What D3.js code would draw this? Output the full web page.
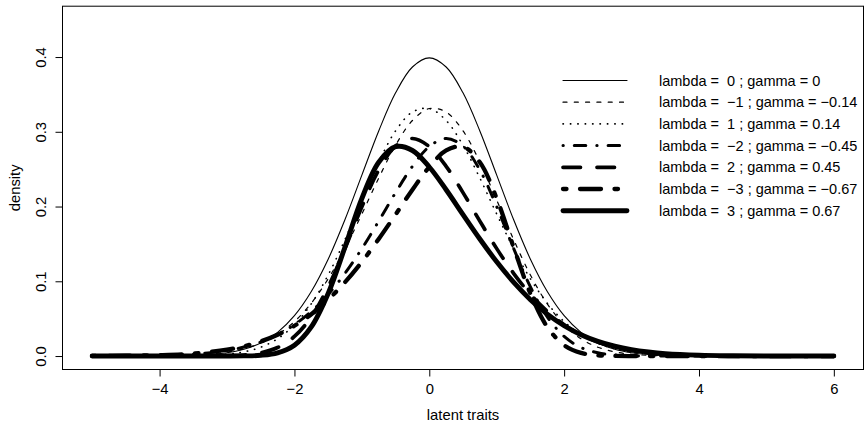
<!DOCTYPE html>
<html>
<head>
<meta charset="utf-8">
<script src="https://cdn.jsdelivr.net/npm/d3@7"></script>
<style>
  body { margin: 0; background: #fff; }
  svg text { font-family: "Liberation Sans", Arial, Helvetica, sans-serif; font-size: 14.8px; fill: #000; white-space: pre; }
  svg text.legendLabel { font-size: 14.5px; }
</style>
</head>
<body>
<svg class="density" width="865" height="423"></svg>
<script>
const traits = [-5, -4.5, -4, -3.5, -3, -2.75, -2.5, -2.25, -2, -1.75, -1.5, -1.25, -1, -0.75, -0.5, -0.25,
                0, 0.25, 0.5, 0.75, 1, 1.25, 1.5, 1.75, 2, 2.25, 2.5, 2.75, 3, 3.25, 3.5, 4, 4.5, 5, 5.5, 6];

// density for each lambda
const densL0 = [0.0000, 0.0000, 0.0001, 0.0009, 0.0044, 0.0091, 0.0175, 0.0317, 0.0540, 0.0863, 0.1295, 0.1826, 0.2420, 0.3011, 0.3521, 0.3867,
                0.3989, 0.3867, 0.3521, 0.3011, 0.2420, 0.1826, 0.1295, 0.0863, 0.0540, 0.0317, 0.0175, 0.0091, 0.0044, 0.0020, 0.0009, 0.0001, 0.0000, 0.0000, 0.0000, 0.0000];
const densLm1 = [0.0000, 0.0001, 0.0003, 0.0014, 0.0053, 0.0098, 0.0171, 0.0287, 0.0461, 0.0707, 0.1033, 0.1437, 0.1900, 0.2381, 0.2820, 0.3151,
                 0.3311, 0.3264, 0.3012, 0.2596, 0.2086, 0.1560, 0.1084, 0.0699, 0.0417, 0.0231, 0.0118, 0.0056, 0.0024, 0.0010, 0.0004, 0.0000, 0.0000, 0.0000, 0.0000, 0.0000];
const densL1 = [0.0000, 0.0000, 0.0000, 0.0004, 0.0024, 0.0056, 0.0118, 0.0231, 0.0417, 0.0699, 0.1084, 0.1560, 0.2086, 0.2596, 0.3012, 0.3264,
                0.3311, 0.3151, 0.2820, 0.2381, 0.1900, 0.1437, 0.1033, 0.0707, 0.0461, 0.0287, 0.0171, 0.0098, 0.0053, 0.0028, 0.0014, 0.0003, 0.0001, 0.0000, 0.0000, 0.0000];
const densLm2 = [0.0001, 0.0002, 0.0008, 0.0026, 0.0075, 0.0120, 0.0188, 0.0285, 0.0419, 0.0597, 0.0825, 0.1107, 0.1437, 0.1805, 0.2186, 0.2538,
                 0.2802, 0.2910, 0.2809, 0.2488, 0.1998, 0.1441, 0.0925, 0.0525, 0.0262, 0.0114, 0.0043, 0.0014, 0.0004, 0.0001, 0.0000, 0.0000, 0.0000, 0.0000, 0.0000, 0.0000];
const densL2 = [0.0000, 0.0000, 0.0000, 0.0000, 0.0004, 0.0014, 0.0043, 0.0114, 0.0262, 0.0525, 0.0925, 0.1441, 0.1998, 0.2488, 0.2809, 0.2910,
                0.2802, 0.2538, 0.2186, 0.1805, 0.1437, 0.1107, 0.0825, 0.0597, 0.0419, 0.0285, 0.0188, 0.0120, 0.0075, 0.0045, 0.0026, 0.0008, 0.0002, 0.0001, 0.0000, 0.0000];
const densLm3 = [0.0001, 0.0004, 0.0012, 0.0033, 0.0085, 0.0131, 0.0196, 0.0285, 0.0405, 0.0560, 0.0754, 0.0988, 0.1260, 0.1566, 0.1893, 0.2225,
                 0.2529, 0.2750, 0.2800, 0.2592, 0.2108, 0.1458, 0.0836, 0.0389, 0.0145, 0.0043, 0.0010, 0.0002, 0.0000, 0.0000, 0.0000, 0.0000, 0.0000, 0.0000, 0.0000, 0.0000];
const densL3 = [0.0000, 0.0000, 0.0000, 0.0000, 0.0000, 0.0002, 0.0010, 0.0043, 0.0145, 0.0389, 0.0836, 0.1458, 0.2108, 0.2592, 0.2800, 0.2750,
                0.2529, 0.2225, 0.1893, 0.1566, 0.1260, 0.0988, 0.0754, 0.0560, 0.0405, 0.0285, 0.0196, 0.0131, 0.0085, 0.0054, 0.0033, 0.0012, 0.0004, 0.0001, 0.0000, 0.0000];

const curveLabels = [
  "lambda =  0 ; gamma = 0",
  "lambda =  \u22121 ; gamma = \u22120.14",
  "lambda =  1 ; gamma = 0.14",
  "lambda =  \u22122 ; gamma = \u22120.45",
  "lambda =  2 ; gamma = 0.45",
  "lambda =  \u22123 ; gamma = \u22120.67",
  "lambda =  3 ; gamma = 0.67"
];

const xTicks = [-4, -2, 0, 2, 4, 6];
const yTicks = [0, 0.1, 0.2, 0.3, 0.4];

// R like lty / lwd for each curve
const lineStyles = [
  {width: 1.1, dash: null},
  {width: 1.2, dash: "4 7.3"},
  {width: 1.6, dash: "0.4 7"},
  {width: 3, dash: "0.3 11 11.5 11"},
  {width: 3.7, dash: "17.5 16.5"},
  {width: 4.3, dash: "3.5 13.5 21 13.5"},
  {width: 4.9, dash: null}
];

function plotDensities() {
  var svg = d3.select(".density");

  let plot = {left: 62.5, right: 863.5, top: 6.2, bottom: 369.5};

  var xScale = d3.scaleLinear()
                 .domain([-5.44, 6.44])
                 .range([plot.left, plot.right]);
  var yScale = d3.scaleLinear()
                 .domain([-0.018, 0.468])
                 .range([plot.bottom, plot.top]);

  let series = [densL0, densLm1, densL1, densLm2, densL2, densLm3, densL3];

  let line = d3.line()
               .x((d, i) => xScale(traits[i]))
               .y(d => yScale(d))
               .curve(d3.curveCatmullRom.alpha(0.5));

  for (let i = 0; i < series.length; i++) {
    let path = svg.append("path")
       .datum(series[i])
       .attr("fill", "none")
       .attr("stroke", "#000")
       .attr("stroke-width", lineStyles[i].width)
       .attr("stroke-linecap", "round")
       .attr("stroke-linejoin", "round")
       .attr("d", line);
    if (lineStyles[i].dash) path.attr("stroke-dasharray", lineStyles[i].dash);
  }

  // box round the plot region
  svg.append("rect")
     .attr("x", plot.left)
     .attr("y", plot.top)
     .attr("width", plot.right - plot.left)
     .attr("height", plot.bottom - plot.top)
     .attr("fill", "none")
     .attr("stroke", "#000")
     .attr("stroke-width", 1);

  // x axis
  let gx = svg.append("g")
              .attr("transform", `translate(0, ${plot.bottom})`)
              .call(d3.axisBottom(xScale).tickValues(xTicks).tickSize(7).tickPadding(7).tickFormat(d3.format("d")));
  gx.select(".domain").remove();
  gx.append("line")
    .attr("x1", xScale(xTicks[0]))
    .attr("x2", xScale(xTicks[xTicks.length - 1]))
    .attr("stroke", "#000");

  // y axis, labels turned like R
  let gy = svg.append("g")
              .attr("transform", `translate(${plot.left}, 0)`)
              .call(d3.axisLeft(yScale).tickValues(yTicks).tickSize(7).tickFormat(d3.format(".1f")));
  gy.select(".domain").remove();
  gy.append("line")
    .attr("y1", yScale(yTicks[0]))
    .attr("y2", yScale(yTicks[yTicks.length - 1]))
    .attr("stroke", "#000");
  gy.selectAll(".tick text")
    .attr("x", 0)
    .attr("y", -16.5)
    .attr("dy", null)
    .attr("text-anchor", "middle")
    .attr("transform", "rotate(-90)");

  svg.selectAll(".tick text").attr("font-family", null).attr("font-size", null).attr("fill", null);
  svg.selectAll(".tick line").attr("stroke", "#000");

  svg.append("text")
     .attr("text-anchor", "middle")
     .attr("x", (plot.left + plot.right) / 2)
     .attr("y", 420)
     .text("latent traits");

  svg.append("text")
     .attr("text-anchor", "middle")
     .attr("transform", `translate(20, ${(plot.top + plot.bottom) / 2}) rotate(-90)`)
     .text("density");

  // legend, no box
  let rowStart = 80.5, rowStep = 21.7;
  for (let i = 0; i < curveLabels.length; i++) {
    let ly = rowStart + rowStep * i;
    let seg = svg.append("line")
       .attr("x1", 563)
       .attr("x2", 627)
       .attr("y1", ly)
       .attr("y2", ly)
       .attr("stroke", "#000")
       .attr("stroke-width", lineStyles[i].width)
       .attr("stroke-linecap", "round");
    if (lineStyles[i].dash) seg.attr("stroke-dasharray", lineStyles[i].dash);
    svg.append("text")
       .attr("class", "legendLabel")
       .attr("x", 659)
       .attr("y", ly)
       .attr("dy", "0.35em")
       .text(curveLabels[i]);
  }
}

plotDensities();
</script>
</body>
</html>
